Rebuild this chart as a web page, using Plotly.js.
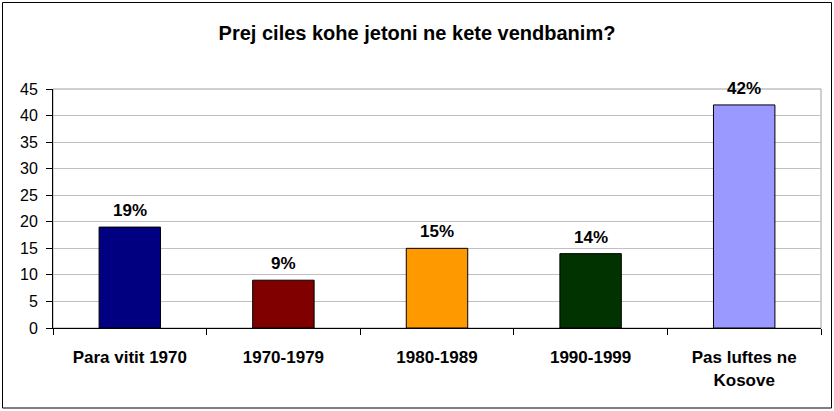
<!DOCTYPE html>
<html>
<head>
<meta charset="utf-8">
<script src="https://cdn.plot.ly/plotly-3.0.1.min.js"></script>
<style>
  html, body { margin: 0; padding: 0; background: #ffffff; }
  #chart { width: 834px; height: 411px; }
</style>
</head>
<body>
<div id="chart"></div>
<script>
const categories = ["Para vitit 1970", "1970-1979", "1980-1989", "1990-1999", "Pas luftes ne Kosove"];
const tickLabels = ["Para vitit 1970", "1970-1979", "1980-1989", "1990-1999", "Pas luftes ne<br>Kosove"];
const values = [19, 9, 15, 14, 42];
const valueLabels = ["19%", "9%", "15%", "14%", "42%"];
const barColors = ["#000080", "#800000", "#FF9900", "#003300", "#9999FF"];
const yTicks = [0, 5, 10, 15, 20, 25, 30, 35, 40, 45];

const font = "Liberation Sans, Arial, sans-serif";

const trace = {
  type: "bar",
  x: categories,
  y: values,
  width: 0.4,
  marker: { color: barColors, line: { color: "#000000", width: 1 } },
  hoverinfo: "none"
};

const annotations = categories.map((c, i) => ({
  x: c, y: values[i], xref: "x", yref: "y",
  text: "<b>" + valueLabels[i] + "</b>",
  showarrow: false, yanchor: "bottom", yshift: 5,
  font: { family: font, size: 17, color: "#000000" }
}));

const M = { l: 53, r: 13, t: 89, b: 83 };
const W = 834, H = 411;
const pw = W - M.l - M.r, ph = H - M.t - M.b;

const layout = {
  width: W, height: H,
  margin: M,
  paper_bgcolor: "#ffffff",
  plot_bgcolor: "#ffffff",
  showlegend: false,
  bargap: 0.6,
  title: {
    text: "<b>Prej ciles kohe jetoni ne kete vendbanim?</b>",
    font: { family: font, size: 20, color: "#000000" },
    x: 0.5, xref: "container", y: 1 - 33 / H, yanchor: "middle"
  },
  xaxis: {
    type: "category",
    tickson: "boundaries",
    tickvals: categories,
    ticktext: tickLabels.map(t => t.split("<br>").map(s => "<b>" + s + "</b>").join("<br>")),
    ticks: "outside", ticklen: 6, tickcolor: "#000000",
    showline: true, linecolor: "#000000", linewidth: 1,
    showgrid: false,
    tickfont: { family: font, size: 17, color: "#000000" },
    ticklabelstandoff: 14,
    automargin: false
  },
  yaxis: {
    range: [0, 45],
    tickvals: yTicks,
    ticks: "outside", ticklen: 6, tickcolor: "#000000",
    showline: true, linecolor: "#000000", linewidth: 1,
    showgrid: true, gridcolor: "#c0c0c0", gridwidth: 1,
    zeroline: false,
    tickfont: { family: font, size: 16, color: "#000000" },
    ticklabelstandoff: 5,
    automargin: false
  },
  annotations: annotations,
  shapes: [
    { type: "rect", xref: "paper", yref: "paper", x0: 0, x1: 1, y0: 0, y1: 1,
      line: { color: "#a0a0a0", width: 1 }, layer: "below" },
    { type: "rect", xref: "paper", yref: "paper",
      x0: (2.5 - M.l) / pw, x1: (831.5 - M.l) / pw,
      y0: (H - M.b - 408) / ph, y1: (H - M.b - 2.5) / ph,
      line: { color: "#000000", width: 1 }, fillcolor: "rgba(0,0,0,0)", layer: "above" }
  ]
};

Plotly.newPlot("chart", [trace], layout, { displayModeBar: false, staticPlot: true });
</script>
</body>
</html>
